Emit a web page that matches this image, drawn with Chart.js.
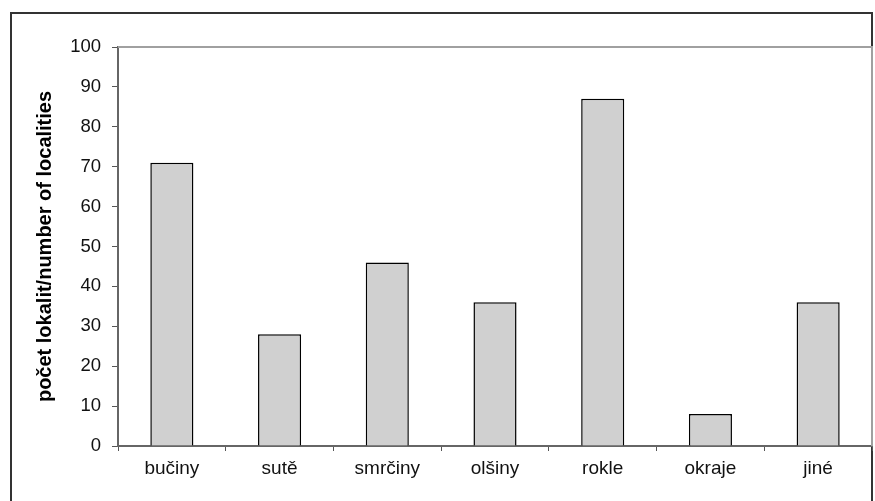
<!DOCTYPE html>
<html>
<head>
<meta charset="utf-8">
<script src="https://cdn.jsdelivr.net/npm/chart.js@4.4.1/dist/chart.umd.min.js"></script>
<style>
  html, body { margin: 0; padding: 0; background: #fff; overflow: hidden; }
  #wrap { position: relative; width: 875px; height: 501px; }
  #frame { position: absolute; left: 10px; top: 12px; width: 863px; height: 520px;
           border: 2px solid #333; border-bottom: none; box-sizing: border-box; }
  canvas { position: absolute; left: 0; top: 0; }
</style>
</head>
<body>
<div id="wrap">
  <div id="frame"></div>
  <canvas id="chart" width="875" height="501"></canvas>
</div>
<script>
const categories = ['bučiny', 'sutě', 'smrčiny', 'olšiny', 'rokle', 'okraje', 'jiné'];
const localities = [71, 28, 46, 36, 87, 8, 36];
const yTicks = [0, 10, 20, 30, 40, 50, 60, 70, 80, 90, 100];
const yTitle = 'počet lokalit/number of localities';

const FONT = 'Arial, "Liberation Sans", sans-serif';

const plotFrame = {
  id: 'plotFrame',
  beforeDatasetsDraw(chart) {
    const { ctx, chartArea: a } = chart;
    ctx.save();
    ctx.strokeStyle = '#a0a0a0';
    ctx.lineWidth = 2;
    ctx.beginPath();
    ctx.moveTo(a.left, a.top);
    ctx.lineTo(a.right, a.top);
    ctx.lineTo(a.right, a.bottom);
    ctx.stroke();
    ctx.restore();
  }
};

new Chart(document.getElementById('chart'), {
  type: 'bar',
  data: {
    labels: categories,
    datasets: [{
      data: localities,
      backgroundColor: '#d0d0d0',
      borderColor: '#000',
      borderWidth: 1.5,
      categoryPercentage: 1,
      barPercentage: 0.4
    }]
  },
  options: {
    responsive: false,
    animation: false,
    devicePixelRatio: 1,
    layout: { padding: { left: 0, top: 47, right: 3, bottom: 0 } },
    plugins: { legend: { display: false }, tooltip: { enabled: false } },
    scales: {
      x: {
        offset: true,
        afterFit(scale) { scale.height = 55; },
        grid: { drawOnChartArea: false, drawTicks: true, tickLength: 5, color: '#555', offset: true },
        border: { color: '#666', width: 2 },
        ticks: { color: '#111', padding: 6, font: { family: FONT, size: 19 } }
      },
      y: {
        min: 0,
        max: 100,
        afterFit(scale) { scale.width = 118; },
        afterBuildTicks(scale) { scale.ticks = yTicks.map((v) => ({ value: v })); },
        grid: { drawOnChartArea: false, drawTicks: true, tickLength: 6, color: '#555' },
        border: { color: '#666', width: 2 },
        ticks: { color: '#111', padding: 11, font: { family: FONT, size: 18.5 } },
        title: {
          display: true,
          text: yTitle,
          color: '#000',
          padding: { top: 33, bottom: 0 },
          font: { family: FONT, size: 20, weight: 'bold' }
        }
      }
    }
  },
  plugins: [plotFrame]
});
</script>
</body>
</html>
